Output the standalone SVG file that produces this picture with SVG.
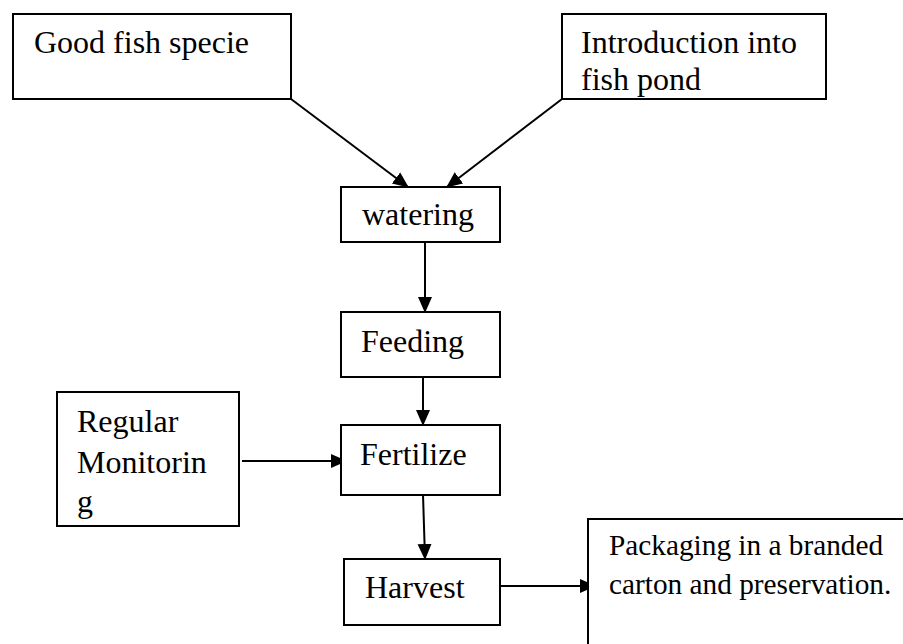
<svg xmlns="http://www.w3.org/2000/svg" width="903" height="644" viewBox="0 0 903 644">
<style>
.box{fill:#fff;stroke:#000;stroke-width:2}
.t{font-family:"Liberation Serif","Times New Roman",serif;font-size:32px;fill:#000}
.s{font-size:29.3px}
.c{stroke:#000;stroke-width:2;fill:none;marker-end:url(#ah)}
</style>
<defs>
<marker id="ah" markerUnits="userSpaceOnUse" markerWidth="16" markerHeight="16" viewBox="0 0 16 16" refX="15" refY="8" orient="auto">
<path d="M0,1 L16,8 L0,15 Z" fill="#000"/>
</marker>
</defs>
<rect width="903" height="644" fill="#fff"/>
<g id="connectors">
<line class="c" x1="291" y1="99" x2="408" y2="187"/>
<line class="c" x1="562" y1="99" x2="447" y2="187"/>
<line class="c" x1="425" y1="242" x2="425" y2="312"/>
<line class="c" x1="423" y1="372" x2="423" y2="425"/>
<line class="c" x1="242" y1="461" x2="346" y2="461"/>
<line class="c" x1="423" y1="494" x2="425" y2="559"/>
<line class="c" x1="500" y1="586" x2="595" y2="586"/>
</g>
<g id="good-fish">
<rect class="box" x="13" y="14" width="278" height="85"/>
<text class="t" x="34" y="53">Good fish specie</text>
</g>
<g id="introduction">
<rect class="box" x="562" y="14" width="264" height="85"/>
<text class="t" x="581" y="53">Introduction into</text>
<text class="t" x="581" y="90">fish pond</text>
</g>
<g id="watering">
<rect class="box" x="341" y="187" width="159" height="55"/>
<text class="t" x="362" y="225">watering</text>
</g>
<g id="feeding">
<rect class="box" x="341" y="312" width="159" height="65"/>
<text class="t" x="361" y="352">Feeding</text>
</g>
<g id="regular-monitoring">
<rect class="box" x="57" y="392" width="182" height="134"/>
<text class="t" x="77" y="432">Regular</text>
<text class="t" x="77" y="473">Monitorin</text>
<text class="t" x="77" y="512">g</text>
</g>
<g id="fertilize">
<rect class="box" x="341" y="425" width="159" height="70"/>
<text class="t" x="360" y="465">Fertilize</text>
</g>
<g id="harvest">
<rect class="box" x="344" y="559" width="156" height="66"/>
<text class="t" x="365" y="598">Harvest</text>
</g>
<g id="packaging">
<rect class="box" x="588" y="519" width="400" height="200"/>
<text class="t s" x="609" y="555">Packaging in a branded</text>
<text class="t s" x="609" y="594">carton and preservation.</text>
</g>
</svg>
